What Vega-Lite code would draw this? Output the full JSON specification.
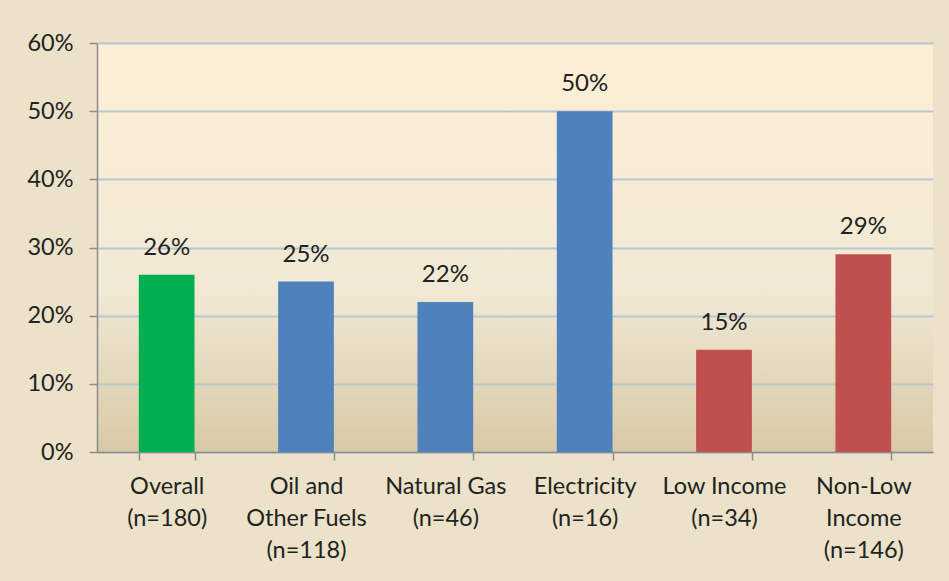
{
  "$schema": "https://vega.github.io/schema/vega-lite/v6.json",
  "autosize": "none",
  "width": 836,
  "height": 409,
  "padding": {"left": 97, "top": 43, "right": 16, "bottom": 129},
  "background": "#ebe2c9",
  "config": {
    "font": "Lato",
    "view": {
      "stroke": null,
      "fill": {
        "gradient": "linear",
        "x1": 0, "y1": 0, "x2": 0, "y2": 1,
        "stops": [
          {"offset": 0, "color": "#fdefd5"},
          {"offset": 0.6, "color": "#f1e9d5"},
          {"offset": 1, "color": "#d8c9a6"}
        ]
      }
    }
  },
  "data": {
    "values": [
      {"group": "Overall|(n=180)", "pct": 0.26, "label": "26%", "kind": "overall"},
      {"group": "Oil and|Other Fuels|(n=118)", "pct": 0.25, "label": "25%", "kind": "fuel"},
      {"group": "Natural Gas|(n=46)", "pct": 0.22, "label": "22%", "kind": "fuel"},
      {"group": "Electricity|(n=16)", "pct": 0.50, "label": "50%", "kind": "fuel"},
      {"group": "Low Income|(n=34)", "pct": 0.15, "label": "15%", "kind": "income"},
      {"group": "Non-Low|Income|(n=146)", "pct": 0.29, "label": "29%", "kind": "income"}
    ]
  },
  "encoding": {
    "x": {
      "field": "group",
      "type": "nominal",
      "sort": null,
      "scale": {"paddingInner": 0.6, "paddingOuter": 0.3},
      "axis": {
        "title": null,
        "labelAngle": 0,
        "labelExpr": "split(datum.label, '|')",
        "labelFontSize": 23.5,
        "labelColor": "#222222",
        "labelLineHeight": 32,
        "labelPadding": 14,
        "labelBaseline": "top",
        "tickBand": "extent",
        "tickSize": 8,
        "tickColor": "#8c8c8c",
        "tickWidth": 1.5,
        "domainColor": "#8c8c8c",
        "domainWidth": 1.5,
        "grid": false
      }
    },
    "y": {
      "field": "pct",
      "type": "quantitative",
      "scale": {"domain": [0, 0.6], "nice": false},
      "axis": {
        "title": null,
        "format": ".0%",
        "values": [0, 0.1, 0.2, 0.3, 0.4, 0.5, 0.6],
        "labelFontSize": 23.5,
        "labelColor": "#222222",
        "labelPadding": 16,
        "tickSize": 8,
        "tickColor": "#8c8c8c",
        "tickWidth": 1.5,
        "domainColor": "#8c8c8c",
        "domainWidth": 1.5,
        "grid": true,
        "gridColor": "#b7c6d3",
        "gridWidth": 2
      }
    }
  },
  "layer": [
    {
      "mark": {"type": "bar"},
      "encoding": {
        "color": {
          "field": "kind",
          "type": "nominal",
          "scale": {"domain": ["overall", "fuel", "income"], "range": ["#00b050", "#4f81bd", "#c0504d"]},
          "legend": null
        }
      }
    },
    {
      "mark": {"type": "text", "baseline": "bottom", "dy": -15, "fontSize": 24, "color": "#222222"},
      "encoding": {
        "text": {"field": "label", "type": "nominal"}
      }
    }
  ]
}
